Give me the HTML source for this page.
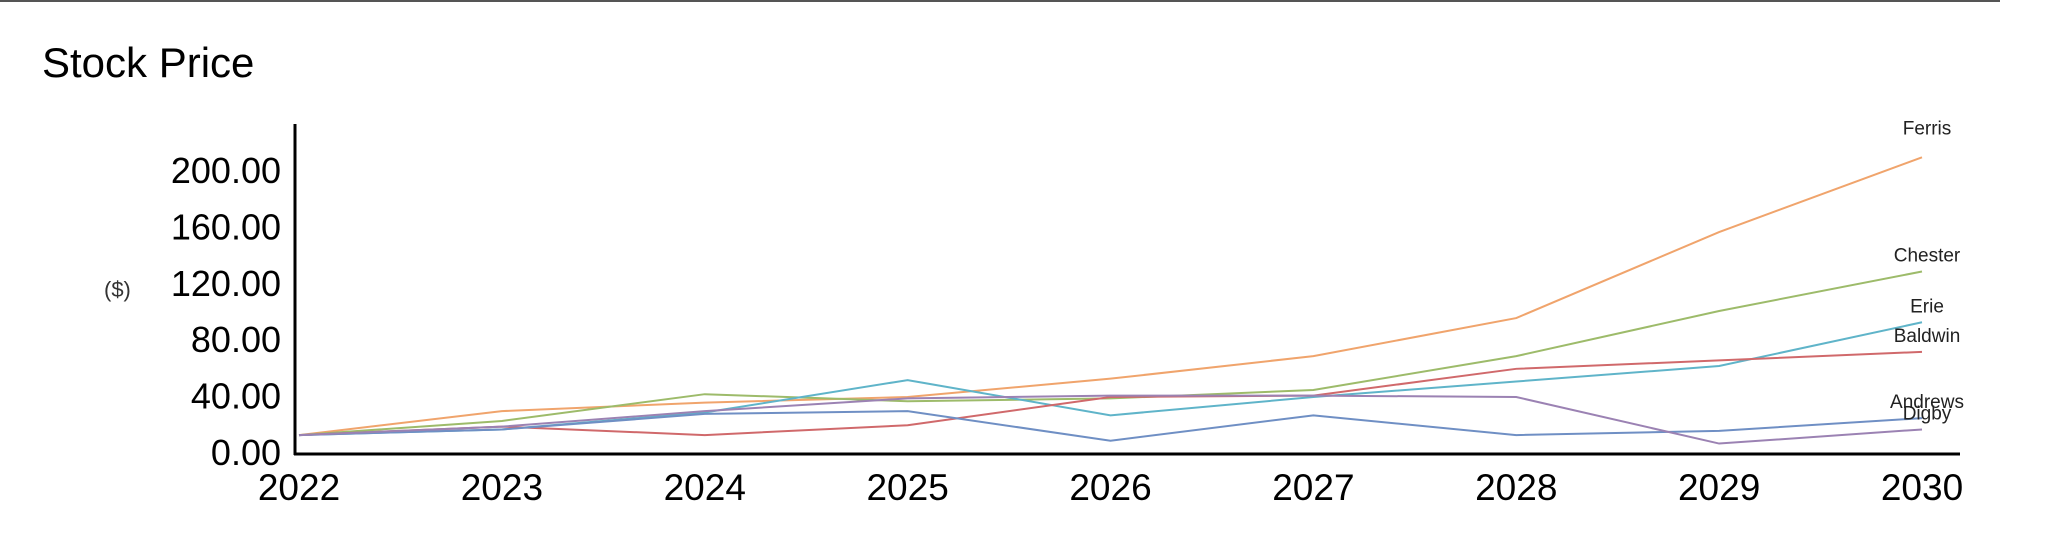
<!DOCTYPE html>
<html><head><meta charset="utf-8"><style>
body{margin:0;background:#fff;width:2046px;height:546px;overflow:hidden;font-family:"Liberation Sans",Arial,sans-serif}
</style></head><body>
<svg id="chart" width="2046" height="546" xmlns="http://www.w3.org/2000/svg">
<line x1="0" y1="1" x2="2000" y2="1" stroke="#555" stroke-width="2"/>
<text x="42" y="77" font-size="42" fill="#000">Stock Price</text>
<text x="104" y="297" font-size="22" fill="#333">($)</text>
<g id="g"></g>
</svg>
<script>
const years=["2022","2023","2024","2025","2026","2027","2028","2029","2030"];
const yTicks=[0,40,80,120,160,200];
const seriesNames=["Ferris","Chester","Erie","Baldwin","Andrews","Digby"];
const ferris=[12,29,35,39,52,68,95,156,209];
const chester=[12,22,41,36,38,44,68,100,128];
const erie=[12,16,28,51,26,39,50,61,92];
const baldwin=[12,18,12,19,39,40,59,65,71];
const andrews=[12,16,27,29,8,26,12,15,24];
const digby=[12,18,29,38,40,40,39,6,16];
const colors=["#f0a46c","#9dbb6a","#5fb4c9","#d0696b","#6f8fc4","#9b82b3"];
const all=[ferris,chester,erie,baldwin,andrews,digby];
const X0=299,X1=1922,Y0=452,PX=1.41;
const x=i=>X0+(X1-X0)*i/(years.length-1);
const y=v=>Y0-v*PX;
const g=document.getElementById('g');
const NS="http://www.w3.org/2000/svg";
function mk(t,a){const e=document.createElementNS(NS,t);for(const k in a)e.setAttribute(k,a[k]);g.appendChild(e);return e;}
yTicks.forEach(v=>{const t=mk('text',{x:281,y:y(v)+13,'font-size':36,'text-anchor':'end',fill:'#000'});


t.textContent=v.toFixed(2);});
years.forEach((yr,i)=>{const t=mk('text',{x:x(i),y:500,'font-size':37,'text-anchor':'middle',fill:'#000'});


t.textContent=yr;});
all.forEach((s,k)=>{const p=mk('polyline',{points:s.map((v,i)=>x(i)+','+y(v)).join(' '),fill:'none',stroke:colors[k],'stroke-width':2});


const last=s[s.length-1];
const off=k===0?-23:-10;
const t=mk('text',{x:x(years.length-1)+5,y:y(last)+off,'font-size':19,'text-anchor':'middle',fill:'#222'});


t.textContent=seriesNames[k];});
const ya=mk('line',{x1:295,y1:124,x2:295,y2:455,stroke:'#000','stroke-width':3});


const xa=mk('line',{x1:294,y1:454,x2:1960,y2:454,stroke:'#000','stroke-width':3});


</script>
</body></html>
